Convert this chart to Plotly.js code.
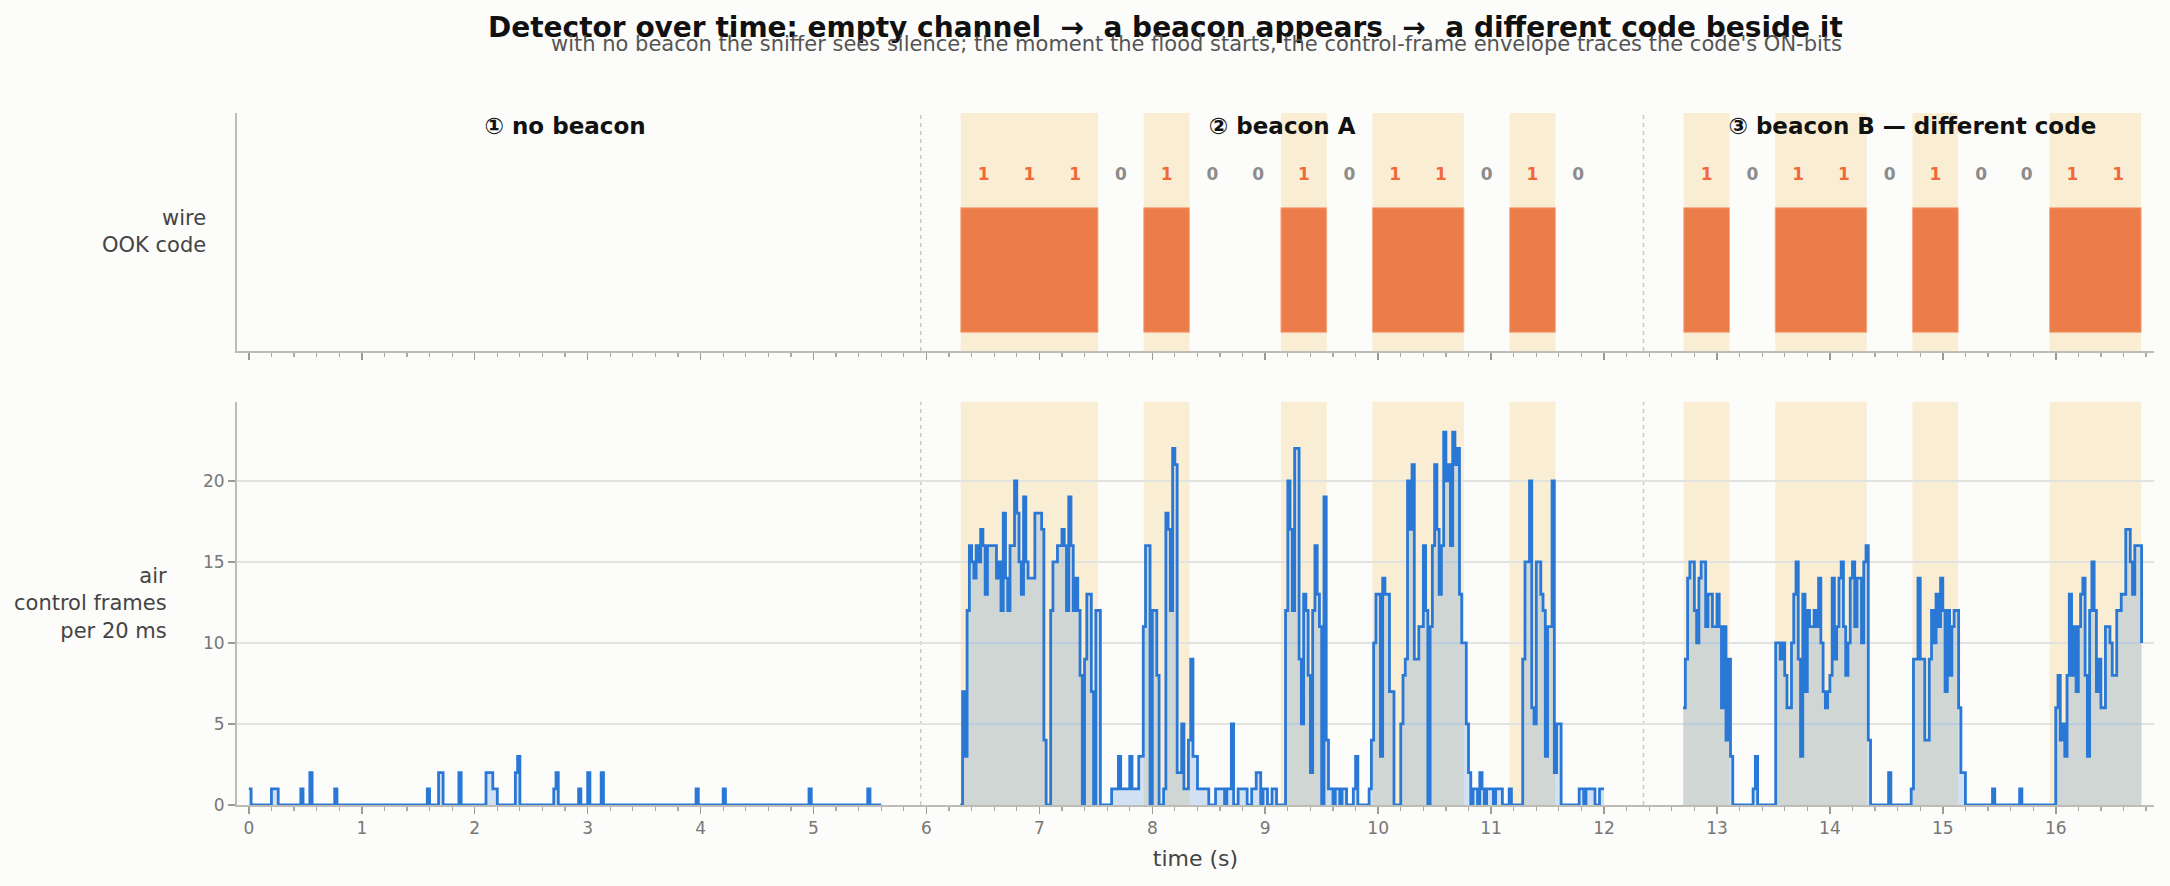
<!DOCTYPE html>
<html><head><meta charset="utf-8">
<script src="https://cdn.plot.ly/plotly-3.0.1.min.js"></script>
<style>html,body{margin:0;padding:0;background:#fcfcfa;}#chart{width:2170px;height:886px;}</style>
</head><body><div id="chart"></div>
<script>
// ================= DATA =================
const binSeconds = 0.02;

// phase 1 : empty channel (sparse: only the non-zero bins, everything else is 0)
const phase1Start = 0.00;
const phase1End = 5.60;
const phase1BlipTimes  = [0.00,0.20,0.22,0.24,0.46,0.54,0.76,1.58,1.68,1.70,1.86,2.10,2.12,2.14,2.16,2.18,2.36,2.38,2.70,2.72,2.92,3.00,3.12,3.96,4.20,4.96,5.48];
const phase1BlipCounts = [1,1,1,1,1,2,1,1,2,2,2,2,2,2,1,1,2,3,1,2,1,2,2,1,1,1,1];

// phase 2 : beacon A (one value per 20 ms bin, from 6.30 s)
const phase2Start = 6.30;
const phase2Counts = [
  // 6.30 - 7.52
  0,7,3,12,16,15,14,16,15,17, 16,13,16,16,16,16,14,15,12,18, 14,12,16,16,20,18,15,13,19,15,
  14,14,14,18,18,18,17,4,0,0, 12,15,15,16,16,17,16,12,19,16, 12,14,12,8,0,9,13,13,7,0, 12,12,
  // 7.54 - 8.94
  0,0,0,0,0, 1,1,1,3,1, 1,1,1,3,1, 1,1,3,3,11, 16,16,0,12,12, 8,0,0,1,18, 17,12,22,21,2,
  2,5,1,1,4, 9,3,3,1,1, 1,1,1,0,0, 0,1,1,1,1, 0,1,1,5,0, 0,1,1,1,1, 0,0,1,1,2, 2,
  // 8.96 - 10.36
  0,1,1,0,0, 1,1,0,0,0, 0,12,20,17,12, 22,22,9,5,13, 12,8,2,12,16, 13,11,0,19,4,
  1,1,0,1,1, 0,1,1,0,0, 0,1,3,0,0, 0,0,0,1,4, 10,13,13,3,14, 13,13,7,7,0,
  0,0,5,8,9, 20,17,21,9,9, 11,
  // 10.38 - 11.98
  11,16,12,0,11,16,21,17,13,16, 23,20,21,16,23,21,22,13,10,10, 5,2,0,1,1,0,2,1,0,1,
  1,1,0,1,1,1,0,0,0,1, 0,0,0,0,0,9,15,15,20,6, 5,15,15,13,12,3,11,11,20,2,
  5,5,0,0,0,0,0,0,0,0, 1,1,0,1,1,1,1,0,0,1, 1,
  // 12.00
  1
];

// phase 3 : beacon B (one value per 20 ms bin, from 12.70 s)
const phase3Start = 12.70;
const phase3Counts = [
  // 12.70 - 13.90
  6,9,14,15,15,12,10,14,15,15, 11,13,13,11,11,13,11,6,11,4, 9,3,
  0,0,0,0,0,0,0,0,0, 1,3, 0,0,0,0,0,0,0,0,
  10,10,9,10,8,6,6,10,13,15, 9,3,13,7,12,11,11,12,11,14,
  // 13.92 - 15.32
  10,7,6,7,8,14,9,11,14,15, 11,8,10,14,15,11,14,14,10,15, 16,4,
  0,0,0,0,0,0,0,0, 2, 0,0,0,0,0,0,0,0,0,
  1,9,9,14,9,9,4,4,9,12, 10,13,11,14,12,7,12,8,11,12, 12,6,2,2,
  0,0,0,0,0,0,0,
  // 15.34 - 16.76
  0,0,0,0,0,1,0,0,0,0, 0,0,0,0,0,0,0,1,0,0, 0,0,0,0,0,0,0,0,0,0, 0,0,0,
  6,8,4,5,3,8,13,8,11,7, 11,13,14,8,3,12,15,12,7,9, 6,6,11,11,10,8,8,12,12,13,
  13,17,17,15,13,16,16,16,10
];

// the two OOK codes on the wire
const bitSeconds   = 0.405;
const beaconAStart = 6.304;
const beaconABits  = [1,1,1,0,1,0,0,1,0,1,1,0,1,0];
const beaconBStart = 12.706;
const beaconBBits  = [1,0,1,1,0,1,0,0,1,1];

const phaseLabels = ['① no beacon', '② beacon A', '③ beacon B — different code'];
const xTickVals = [0,1,2,3,4,5,6,7,8,9,10,11,12,13,14,15,16];
const yTickVals = [0,5,10,15,20];

// ================= BUILD =================
function timesFor(start, n){ const t=[]; for(let i=0;i<n;i++) t.push(+(start+i*binSeconds).toFixed(2)); return t; }
const p1n = Math.round((phase1End-phase1Start)/binSeconds)+1;
const phase1Counts = new Array(p1n).fill(0);
phase1BlipTimes.forEach((t,i)=>{ phase1Counts[Math.round((t-phase1Start)/binSeconds)] = phase1BlipCounts[i]; });

const phases = [
  {x: timesFor(phase1Start, phase1Counts.length), y: phase1Counts},
  {x: timesFor(phase2Start, phase2Counts.length), y: phase2Counts},
  {x: timesFor(phase3Start, phase3Counts.length), y: phase3Counts}
];

const LINE = '#2a78d6', FILL = 'rgba(42,120,214,0.20)', BAND = '#f9eed4', ORANGE = '#ec7d4b';
const FONT = 'DejaVu Sans, Verdana, sans-serif';

const traces = phases.map(p => ({
  type:'scatter', mode:'lines', x:p.x, y:p.y, xaxis:'x', yaxis:'y',
  line:{color:LINE, width:2.8, shape:'hv'}, fill:'tozeroy', fillcolor:FILL, hoverinfo:'skip'
}));

// runs of ON bits -> bars + bands
function runs(start, bits){
  const r=[]; let i=0;
  while(i<bits.length){ if(bits[i]){ let j=i; while(j+1<bits.length && bits[j+1]) j++; r.push([start+i*bitSeconds, start+(j+1)*bitSeconds]); i=j+1;} else i++; }
  return r;
}
const onRuns = runs(beaconAStart, beaconABits).concat(runs(beaconBStart, beaconBBits));

traces.push({
  type:'bar', xaxis:'x2', yaxis:'y2',
  x: onRuns.map(r=>(r[0]+r[1])/2), y: onRuns.map(()=>1), width: onRuns.map(r=>r[1]-r[0]), base:0,
  marker:{color:ORANGE, line:{color:'rgba(246,170,130,0.9)', width:1}}, hoverinfo:'skip'
});

// bit digit labels
const bitX=[], bitT=[], bitC=[];
[[beaconAStart, beaconABits],[beaconBStart, beaconBBits]].forEach(([s,b])=>{
  b.forEach((v,i)=>{ bitX.push(s+(i+0.5)*bitSeconds); bitT.push(String(v)); bitC.push(v? '#f0693a' : '#8c8c8c'); });
});
traces.push({
  type:'scatter', mode:'text', xaxis:'x2', yaxis:'y2', x:bitX, y:bitX.map(()=>1.26), text:bitT,
  textfont:{family:FONT, size:17, color:bitC, weight:'bold'}, cliponaxis:false, hoverinfo:'skip'
});

// phase labels centred on each phase's data
const phaseMid = phases.map(p => (p.x[0]+p.x[p.x.length-1])/2);
traces.push({
  type:'scatter', mode:'text', xaxis:'x2', yaxis:'y2', x:phaseMid, y:phaseMid.map(()=>1.64), text:phaseLabels,
  textfont:{family:FONT, size:23, color:'#111', weight:'bold'}, cliponaxis:false, hoverinfo:'skip'
});

// shapes: bands in both panels + dashed phase separators
const shapes=[];
onRuns.forEach(r=>{
  [['x','y domain'],['x2','y2 domain']].forEach(([xr,yr])=>{
    shapes.push({type:'rect', xref:xr, yref:yr, x0:r[0], x1:r[1], y0:0, y1:1, fillcolor:BAND, line:{width:0}, layer:'below'});
  });
});
const seps = [ (phases[0].x[phases[0].x.length-1]+phases[1].x[0])/2, (phases[1].x[phases[1].x.length-1]+phases[2].x[0])/2 ];
seps.forEach(s=>{
  [['x','y domain'],['x2','y2 domain']].forEach(([xr,yr])=>{
    shapes.push({type:'line', xref:xr, yref:yr, x0:s, x1:s, y0:0, y1:1, line:{color:'#c9c9c5', width:1.5, dash:'4px,4px'}, layer:'below'});
  });
});

// pixel helpers for paper-positioned text
const W=2170, H=886, ML=237, MR=16, MT=113, MB=81;
const PW=W-ML-MR, PH=H-MT-MB;
const px = v => (v-ML)/PW;
const py = v => (H-MB-v)/PH;

const annotations = [
  {xref:'paper', yref:'paper', x:px(1165), y:py(27), xanchor:'center', yanchor:'middle', showarrow:false,
   text:'<b>Detector over time: empty channel\u00a0 →\u00a0 a beacon appears\u00a0 →\u00a0 a different code beside it</b>',
   font:{family:FONT, size:28, color:'#111'}},
  {xref:'paper', yref:'paper', x:px(1196), y:py(44), xanchor:'center', yanchor:'middle', showarrow:false,
   text:"with no beacon the sniffer sees silence; the moment the flood starts, the control-frame envelope traces the code's ON-bits",
   font:{family:FONT, size:21, color:'#555'}},
  {xref:'paper', yref:'paper', x:px(208), y:py(231), xanchor:'right', yanchor:'middle', align:'right', showarrow:false,
   text:'wire<br>OOK code', font:{family:FONT, size:21, color:'#444'}},
  {xref:'paper', yref:'paper', x:px(169), y:py(603), xanchor:'right', yanchor:'middle', align:'right', showarrow:false,
   text:'air<br>control frames<br>per 20 ms', font:{family:FONT, size:21, color:'#444'}}
];

const SPINE='#bdbdb5', TICK='#9a9a96';
const xCommon = {
  range:[-0.105, 16.87], tickvals:xTickVals, ticks:'outside', ticklen:7, tickwidth:1.5, tickcolor:TICK,
  minor:{dtick:0.2, tick0:0, ticks:'outside', ticklen:4, tickwidth:1.2, tickcolor:'#a8a8a4', showgrid:false},
  showline:true, linecolor:SPINE, linewidth:2, showgrid:false, zeroline:false, layer:'below traces'
};
const layout = {
  width:W, height:H, margin:{l:ML, r:MR, t:MT, b:MB, pad:0},
  paper_bgcolor:'#fcfcfa', plot_bgcolor:'rgba(0,0,0,0)', showlegend:false,
  font:{family:FONT, color:'#444'},
  xaxis: Object.assign({}, xCommon, {anchor:'y', domain:[0,1],
    tickfont:{family:FONT, size:17, color:'#777'},
    title:{text:'time (s)', font:{family:FONT, size:22, color:'#444'}, standoff:13}}),
  xaxis2: Object.assign({}, xCommon, {anchor:'y2', domain:[0,1], matches:'x', showticklabels:false}),
  yaxis: {domain:[0, (H-MB-401.7)/PH], range:[0, 24.88], anchor:'x', tickvals:yTickVals,
    ticks:'outside', ticklen:7, tickwidth:1.5, tickcolor:TICK, tickfont:{family:FONT, size:17, color:'#777'},
    showgrid:true, gridcolor:'#e2e2de', gridwidth:1.5, showline:true, linecolor:SPINE, linewidth:2, zeroline:false, layer:'below traces'},
  yaxis2: {domain:[(H-MB-351)/PH, 1], range:[-0.15, 1.76], anchor:'x2', showticklabels:false, ticks:'',
    showgrid:false, showline:true, linecolor:SPINE, linewidth:2, zeroline:false},
  shapes: shapes, annotations: annotations, bargap:0
};

if (phase2Counts.length !== 286 || phase3Counts.length !== 204) {
  throw new Error('length check: p2=' + phase2Counts.length + ' p3=' + phase3Counts.length);
}
Plotly.newPlot('chart', traces, layout, {staticPlot:true, displayModeBar:false});
</script>
</body></html>
